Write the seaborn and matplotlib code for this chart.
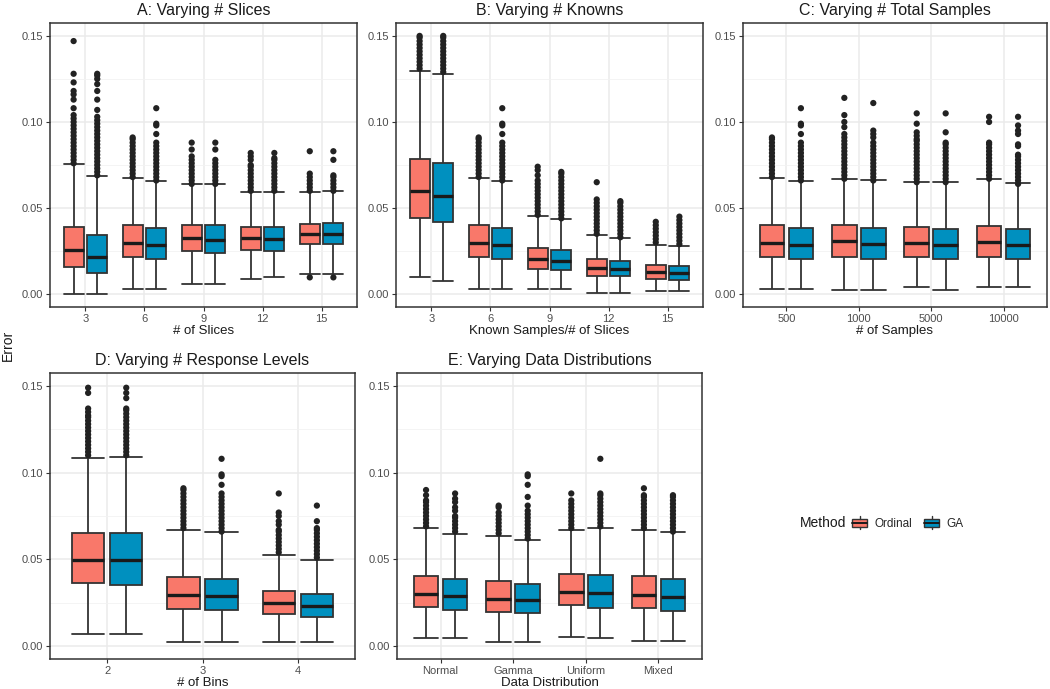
import numpy as np
import pandas as pd
import matplotlib
matplotlib.use("Agg")
import matplotlib.pyplot as plt
from matplotlib.patches import Rectangle
from matplotlib.lines import Line2D
from matplotlib.legend_handler import HandlerBase
import seaborn as sns

# Box statistics: (lower whisker, Q1, median, Q3, upper whisker)
methods = ["Ordinal", "GA"]
colors = {"Ordinal": "#F9786A", "GA": "#0090BF"}

# A: Varying # Slices
A_cats = ["3", "6", "9", "12", "15"]
A_ord = [(0.0, 0.0155, 0.0259, 0.0391, 0.0753), (0.0027, 0.0217, 0.0298, 0.0401, 0.0675),
         (0.0058, 0.0250, 0.0325, 0.0404, 0.0637), (0.0085, 0.0259, 0.0325, 0.0391, 0.0594),
         (0.0116, 0.0290, 0.0352, 0.0410, 0.0594)]
A_ga = [(0.0, 0.0120, 0.0213, 0.0346, 0.0685), (0.0027, 0.0205, 0.0286, 0.0385, 0.0656),
        (0.0058, 0.0240, 0.0317, 0.0399, 0.0637), (0.0097, 0.0252, 0.0319, 0.0391, 0.0594),
        (0.0116, 0.0290, 0.0348, 0.0414, 0.0600)]
A_ord_out = [
    [0.076, 0.078, 0.080, 0.082, 0.084, 0.086, 0.088, 0.090, 0.092, 0.094, 0.096, 0.098, 0.100,
     0.102, 0.104, 0.108, 0.113, 0.116, 0.118, 0.123, 0.128, 0.147],
    [0.068, 0.070, 0.072, 0.074, 0.076, 0.078, 0.080, 0.082, 0.084, 0.086, 0.088, 0.090, 0.091],
    [0.064, 0.066, 0.068, 0.070, 0.072, 0.074, 0.076, 0.078, 0.080, 0.084, 0.088],
    [0.060, 0.062, 0.064, 0.066, 0.068, 0.070, 0.072, 0.074, 0.075, 0.078, 0.080, 0.082],
    [0.0097, 0.060, 0.062, 0.064, 0.066, 0.068, 0.070, 0.083],
]
A_ga_out = [
    [0.069, 0.071, 0.073, 0.075, 0.077, 0.079, 0.081, 0.083, 0.085, 0.087, 0.089, 0.091, 0.093,
     0.095, 0.097, 0.099, 0.101, 0.103, 0.107, 0.113, 0.118, 0.122, 0.125, 0.127, 0.128],
    [0.066, 0.068, 0.070, 0.072, 0.074, 0.076, 0.078, 0.080, 0.082, 0.084, 0.086, 0.088,
     0.093, 0.098, 0.099, 0.108],
    [0.064, 0.066, 0.068, 0.070, 0.072, 0.074, 0.076, 0.078, 0.084, 0.088],
    [0.060, 0.062, 0.064, 0.066, 0.068, 0.070, 0.072, 0.074, 0.076, 0.078, 0.079, 0.082],
    [0.0097, 0.060, 0.062, 0.064, 0.066, 0.068, 0.069, 0.078, 0.083],
]

# B: Varying # Knowns
B_cats = ["3", "6", "9", "12", "15"]
B_ord = [(0.0101, 0.0443, 0.0598, 0.0782, 0.1295), (0.0027, 0.0217, 0.0298, 0.0401, 0.0672),
         (0.0027, 0.0147, 0.0201, 0.0269, 0.0451), (0.0008, 0.0108, 0.0153, 0.0201, 0.0341),
         (0.0017, 0.0087, 0.0128, 0.0168, 0.0288)]
B_ga = [(0.0077, 0.0420, 0.0571, 0.0764, 0.1280), (0.0027, 0.0203, 0.0284, 0.0385, 0.0656),
        (0.0027, 0.0139, 0.0194, 0.0259, 0.0437), (0.0008, 0.0103, 0.0147, 0.0192, 0.0323),
        (0.0017, 0.0083, 0.0124, 0.0165, 0.0277)]
B_ord_out = [
    [0.131, 0.133, 0.135, 0.137, 0.139, 0.141, 0.143, 0.145, 0.147, 0.149, 0.150],
    [0.068, 0.070, 0.072, 0.074, 0.076, 0.078, 0.080, 0.082, 0.084, 0.086, 0.088, 0.090, 0.091],
    [0.046, 0.048, 0.050, 0.052, 0.054, 0.056, 0.058, 0.060, 0.062, 0.064, 0.066, 0.069, 0.072, 0.074],
    [0.035, 0.037, 0.039, 0.041, 0.043, 0.045, 0.047, 0.049, 0.051, 0.053, 0.055, 0.065],
    [0.030, 0.032, 0.034, 0.036, 0.038, 0.040, 0.042],
]
B_ga_out = [
    [0.129, 0.131, 0.133, 0.135, 0.137, 0.139, 0.141, 0.143, 0.145, 0.147, 0.149, 0.150],
    [0.066, 0.068, 0.070, 0.072, 0.074, 0.076, 0.078, 0.080, 0.082, 0.084, 0.086, 0.088,
     0.093, 0.098, 0.099, 0.108],
    [0.044, 0.046, 0.048, 0.050, 0.052, 0.054, 0.056, 0.058, 0.060, 0.062, 0.064, 0.066,
     0.068, 0.070, 0.071],
    [0.033, 0.035, 0.037, 0.039, 0.041, 0.043, 0.045, 0.047, 0.049, 0.051, 0.053, 0.054],
    [0.029, 0.031, 0.033, 0.035, 0.037, 0.039, 0.041, 0.043, 0.045],
]

# C: Varying # Total Samples
C_cats = ["500", "1000", "5000", "10000"]
C_ord = [(0.0027, 0.0217, 0.0298, 0.0401, 0.0675), (0.0021, 0.0217, 0.0306, 0.0401, 0.0666),
         (0.0039, 0.0217, 0.0294, 0.0389, 0.0650), (0.0043, 0.0213, 0.0300, 0.0395, 0.0668)]
C_ga = [(0.0027, 0.0205, 0.0286, 0.0385, 0.0656), (0.0021, 0.0205, 0.0290, 0.0385, 0.0660),
        (0.0021, 0.0205, 0.0283, 0.0381, 0.0650), (0.0039, 0.0203, 0.0284, 0.0379, 0.0643)]
C_ord_out = [
    [0.068, 0.070, 0.072, 0.074, 0.076, 0.078, 0.080, 0.082, 0.084, 0.086, 0.088, 0.090, 0.091],
    [0.067, 0.069, 0.071, 0.073, 0.075, 0.077, 0.079, 0.081, 0.083, 0.085, 0.087, 0.089, 0.091,
     0.093, 0.097, 0.100, 0.104, 0.114],
    [0.065, 0.067, 0.069, 0.071, 0.073, 0.075, 0.077, 0.079, 0.081, 0.083, 0.085, 0.087, 0.089,
     0.090, 0.092, 0.094, 0.099, 0.105],
    [0.067, 0.069, 0.071, 0.073, 0.075, 0.077, 0.079, 0.081, 0.083, 0.085, 0.087, 0.088,
     0.100, 0.103],
]
C_ga_out = [
    [0.066, 0.068, 0.070, 0.072, 0.074, 0.076, 0.078, 0.080, 0.082, 0.084, 0.086, 0.088,
     0.093, 0.098, 0.099, 0.108],
    [0.066, 0.068, 0.070, 0.072, 0.074, 0.076, 0.078, 0.080, 0.082, 0.084, 0.086, 0.088,
     0.091, 0.093, 0.095, 0.111],
    [0.065, 0.067, 0.069, 0.071, 0.073, 0.075, 0.077, 0.079, 0.081, 0.083, 0.085, 0.087,
     0.088, 0.094, 0.105],
    [0.064, 0.066, 0.068, 0.070, 0.072, 0.074, 0.076, 0.078, 0.080, 0.081, 0.086, 0.087,
     0.093, 0.095, 0.098, 0.103],
]

# D: Varying # Response Levels
D_cats = ["2", "3", "4"]
D_ord = [(0.0071, 0.0361, 0.0498, 0.0651, 0.1087), (0.0025, 0.0216, 0.0297, 0.0400, 0.0672),
         (0.0025, 0.0185, 0.0247, 0.0320, 0.0527)]
D_ga = [(0.0071, 0.0353, 0.0494, 0.0651, 0.1090), (0.0025, 0.0205, 0.0286, 0.0386, 0.0656),
        (0.0025, 0.0170, 0.0232, 0.0299, 0.0498)]
D_ord_out = [
    [0.110, 0.112, 0.114, 0.116, 0.118, 0.120, 0.122, 0.124, 0.126, 0.128, 0.130, 0.132,
     0.133, 0.135, 0.137, 0.146, 0.149],
    [0.068, 0.070, 0.072, 0.074, 0.076, 0.078, 0.080, 0.082, 0.084, 0.086, 0.088, 0.090, 0.091],
    [0.054, 0.056, 0.058, 0.060, 0.062, 0.064, 0.066, 0.067, 0.070, 0.072, 0.075, 0.077, 0.088],
]
D_ga_out = [
    [0.110, 0.112, 0.114, 0.116, 0.118, 0.120, 0.122, 0.124, 0.126, 0.128, 0.130, 0.132,
     0.134, 0.136, 0.137, 0.143, 0.146, 0.149],
    [0.066, 0.068, 0.070, 0.072, 0.074, 0.076, 0.078, 0.080, 0.082, 0.084, 0.086, 0.088,
     0.093, 0.098, 0.099, 0.108],
    [0.051, 0.053, 0.055, 0.057, 0.059, 0.061, 0.063, 0.065, 0.067, 0.068, 0.072, 0.081],
]

# E: Varying Data Distributions
E_cats = ["Normal", "Gamma", "Uniform", "Mixed"]
E_ord = [(0.0048, 0.0224, 0.0299, 0.0405, 0.0680), (0.0025, 0.0195, 0.0274, 0.0373, 0.0637),
         (0.0054, 0.0234, 0.0313, 0.0413, 0.0672), (0.0031, 0.0218, 0.0295, 0.0402, 0.0672)]
E_ga = [(0.0048, 0.0205, 0.0286, 0.0388, 0.0649), (0.0025, 0.0189, 0.0263, 0.0357, 0.0610),
        (0.0048, 0.0222, 0.0303, 0.0407, 0.0683), (0.0031, 0.0203, 0.0284, 0.0386, 0.0658)]
E_ord_out = [
    [0.069, 0.071, 0.073, 0.075, 0.077, 0.079, 0.081, 0.083, 0.084, 0.087, 0.090],
    [0.065, 0.067, 0.069, 0.071, 0.073, 0.075, 0.077, 0.080, 0.081],
    [0.068, 0.070, 0.072, 0.074, 0.076, 0.078, 0.080, 0.082, 0.084, 0.088],
    [0.068, 0.070, 0.072, 0.074, 0.076, 0.078, 0.080, 0.082, 0.084, 0.086, 0.087, 0.091],
]
E_ga_out = [
    [0.066, 0.068, 0.070, 0.072, 0.074, 0.075, 0.078, 0.080, 0.083, 0.085, 0.088],
    [0.062, 0.064, 0.066, 0.068, 0.070, 0.072, 0.074, 0.076, 0.078, 0.081, 0.086, 0.093,
     0.098, 0.099],
    [0.069, 0.071, 0.073, 0.075, 0.077, 0.079, 0.081, 0.083, 0.085, 0.087, 0.088, 0.108],
    [0.066, 0.068, 0.070, 0.072, 0.074, 0.076, 0.078, 0.080, 0.082, 0.084, 0.086, 0.087],
]

panels = [
    ("A: Varying # Slices", "# of Slices", A_cats, A_ord, A_ga, A_ord_out, A_ga_out, (50, 357, 23, 307)),
    ("B: Varying # Knowns", "Known Samples/# of Slices", B_cats, B_ord, B_ga, B_ord_out, B_ga_out, (396, 703, 23, 307)),
    ("C: Varying # Total Samples", "# of Samples", C_cats, C_ord, C_ga, C_ord_out, C_ga_out, (743, 1047, 23, 307)),
    ("D: Varying # Response Levels", "# of Bins", D_cats, D_ord, D_ga, D_ord_out, D_ga_out, (50, 355, 373, 659)),
    ("E: Varying Data Distributions", "Data Distribution", E_cats, E_ord, E_ga, E_ord_out, E_ga_out, (397, 702, 373, 659)),
]


def box_frame(cats, ord_stats, ga_stats):
    # 5 points per box: quartiles with linear interpolation land exactly on the values
    rows = []
    for c, s in zip(cats, ord_stats):
        rows += [(c, "Ordinal", v) for v in s]
    for c, s in zip(cats, ga_stats):
        rows += [(c, "GA", v) for v in s]
    return pd.DataFrame(rows, columns=["cat", "method", "value"])


def out_frame(cats, ord_out, ga_out):
    rows = []
    for c, vals in zip(cats, ord_out):
        rows += [(c, "Ordinal", v) for v in vals]
    for c, vals in zip(cats, ga_out):
        rows += [(c, "GA", v) for v in vals]
    return pd.DataFrame(rows, columns=["cat", "method", "value"])


class BoxKeyHandler(HandlerBase):
    # ggplot-like legend key: box with median line and short whiskers
    def create_artists(self, legend, orig_handle, xdescent, ydescent, width, height, fontsize, trans):
        x0, y0 = -xdescent, -ydescent
        bx = Rectangle((x0, y0 + 0.2 * height), width, 0.6 * height,
                       facecolor=orig_handle, edgecolor="#333333", linewidth=1.0, transform=trans)
        med = Line2D([x0, x0 + width], [y0 + 0.5 * height] * 2, color="#1a1a1a",
                     linewidth=1.4, transform=trans)
        top = Line2D([x0 + width / 2] * 2, [y0 + 0.8 * height, y0 + height], color="#333333",
                     linewidth=1.0, transform=trans)
        bot = Line2D([x0 + width / 2] * 2, [y0, y0 + 0.2 * height], color="#333333",
                     linewidth=1.0, transform=trans)
        return [bx, med, top, bot]


sns.set_style("white")
plt.rcParams["font.family"] = ["Liberation Sans", "DejaVu Sans"]

W, H = 1050, 689
fig = plt.figure(figsize=(W / 100, H / 100), dpi=100)

for title, xlabel, cats, ords, gas, ord_out, ga_out, (l, r, t, b) in panels:
    ax = fig.add_axes([l / W, 1 - b / H, (r - l) / W, (b - t) / H])
    ax.set_axisbelow(True)
    sns.boxplot(data=box_frame(cats, ords, gas), x="cat", y="value", hue="method",
                order=cats, hue_order=methods, palette=colors, saturation=1,
                whis=(0, 100), showfliers=False, width=0.8, gap=0.15, linewidth=1.3,
                linecolor="#333333", capwidths=0.34,
                medianprops=dict(color="#1a1a1a", linewidth=2.4),
                legend=False, ax=ax)
    sns.stripplot(data=out_frame(cats, ord_out, ga_out), x="cat", y="value", hue="method",
                  order=cats, hue_order=methods,
                  palette={"Ordinal": "#222222", "GA": "#222222"},
                  dodge=True, jitter=False, size=4.5, linewidth=0, legend=False,
                  zorder=3, ax=ax)
    ax.set_xlim(-0.6, len(cats) - 0.4)
    ax.set_ylim(-0.0075, 0.1575)
    ax.set_yticks([0.0, 0.05, 0.10, 0.15])
    ax.set_yticklabels(["0.00", "0.05", "0.10", "0.15"])
    ax.set_yticks([0.025, 0.075, 0.125], minor=True)
    ax.grid(True, which="major", color="#EBEBEB", linewidth=1.1)
    ax.grid(True, which="minor", axis="y", color="#F2F2F2", linewidth=0.6)
    for sp in ax.spines.values():
        sp.set_color("#333333")
        sp.set_linewidth(1.1)
    ax.tick_params(axis="both", which="major", length=3, width=0.8, color="#333333",
                   labelsize=8, labelcolor="#4D4D4D", pad=2, left=True, bottom=True)
    ax.tick_params(axis="y", which="minor", length=0)
    ax.set_title(title, fontsize=11.5, color="#1a1a1a", pad=6)
    ax.set_xlabel(xlabel, fontsize=9.5, color="#1a1a1a", labelpad=0.5)
    ax.set_ylabel("")

fig.text(8 / W, 1 - 345 / H, "Error", rotation=90, ha="center", va="center",
         fontsize=10, color="#1a1a1a")

fig.text(800 / W, 1 - 523 / H, "Method", ha="left", va="center", fontsize=10, color="#1a1a1a")
fig.legend([colors[m] for m in methods], methods, loc="center left",
           bbox_to_anchor=(852 / W, 1 - 523 / H), ncol=2, frameon=False, fontsize=8.5,
           handlelength=1.3, handleheight=1.3, columnspacing=1.0, handletextpad=0.6,
           borderaxespad=0, borderpad=0, handler_map={str: BoxKeyHandler()})

fig.savefig("out.png", dpi=100)
